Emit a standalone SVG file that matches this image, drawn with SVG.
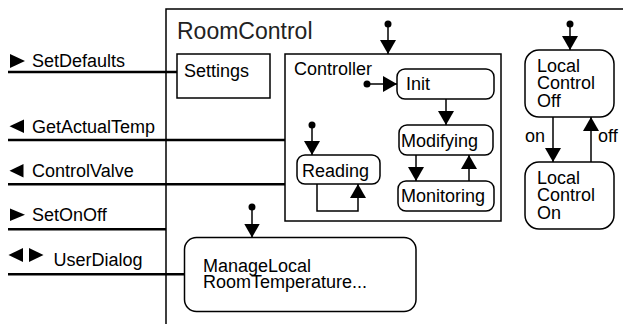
<svg xmlns="http://www.w3.org/2000/svg" width="623" height="324" viewBox="0 0 623 324">
  <style>
    text { font-family: "Liberation Sans", Arial, sans-serif; font-size: 18px; fill: #000; }
    .title { font-size: 23px; fill: #222; }
    .box { fill: #fff; stroke: #000; stroke-width: 1.5; }
    .frame { fill: none; stroke: #000; stroke-width: 1.5; }
    .port { fill: none; stroke: #000; stroke-width: 2.5; }
    .tr { fill: none; stroke: #000; stroke-width: 1.5; }
    .dot { fill: #000; }
    .tri { fill: #000; }
  </style>
  <defs>
    <marker id="head" markerUnits="userSpaceOnUse" viewBox="0 0 14 16" refX="14" refY="8" markerWidth="14" markerHeight="16" orient="auto">
      <path d="M0,0 L14,8 L0,16 Z" fill="#000"/>
    </marker>
  </defs>

  <!-- enclosing RoomControl frame -->
  <g id="RoomControl">
    <path class="frame" d="M166,324 V9 H623"/>
    <text class="title" x="177" y="39">RoomControl</text>
  </g>

  <!-- interface ports on the left -->
  <g id="ports">
    <polygon class="tri" points="10,54 10,68 25,61"/>
    <text x="32" y="66.5">SetDefaults</text>
    <polygon class="tri" points="24,119.5 24,133 9.5,126.2"/>
    <text x="32" y="132.7">GetActualTemp</text>
    <polygon class="tri" points="23.5,164 23.5,177.5 9.5,170.7"/>
    <text x="32" y="176.7">ControlValve</text>
    <polygon class="tri" points="10,208.5 10,221 25,214.7"/>
    <text x="32" y="220.5">SetOnOff</text>
    <polygon class="tri" points="23,248 23,262 8.5,255"/>
    <polygon class="tri" points="29,248 29,262 43.5,255"/>
    <text x="53.5" y="266">UserDialog</text>
  </g>

  <g id="Settings">
    <rect class="box" x="177" y="54" width="93" height="44"/>
    <text x="184" y="77">Settings</text>
  </g>

  <g id="Controller">
    <rect class="box" x="285" y="54" width="216" height="167"/>
    <text x="294" y="74.5">Controller</text>
  </g>

  <g id="Init">
    <rect class="box" x="397" y="69" width="97" height="30" rx="8"/>
    <text x="406" y="89.5">Init</text>
  </g>

  <g id="Modifying">
    <rect class="box" x="399" y="125" width="94" height="30" rx="8"/>
    <text x="401" y="146.5">Modifying</text>
  </g>

  <g id="Monitoring">
    <rect class="box" x="398" y="181" width="96" height="30" rx="8"/>
    <text x="401" y="202">Monitoring</text>
  </g>

  <g id="Reading">
    <rect class="box" x="297" y="155" width="83" height="29" rx="8"/>
    <text x="302" y="176.5">Reading</text>
  </g>

  <g id="ManageLocalRoomTemperature">
    <rect class="box" x="184.5" y="237.5" width="231.5" height="74" rx="12"/>
    <text x="203" y="271.5">ManageLocal</text>
    <text x="203" y="288.3">RoomTemperature...</text>
  </g>

  <g id="LocalControlOff">
    <rect class="box" x="525" y="50" width="89" height="67" rx="14"/>
    <text x="537" y="71.5">Local</text>
    <text x="537" y="89">Control</text>
    <text x="537" y="106.5">Off</text>
  </g>

  <g id="LocalControlOn">
    <rect class="box" x="525" y="162" width="89" height="67" rx="14"/>
    <text x="537" y="183.5">Local</text>
    <text x="537" y="201">Control</text>
    <text x="537" y="219">On</text>
  </g>

  <!-- connectors: port lines, initial transitions and state transitions -->
  <g id="connectors">
    <line class="port" x1="8" y1="72" x2="177" y2="72"/>
    <line class="port" x1="8" y1="140" x2="285" y2="140"/>
    <line class="port" x1="8" y1="184.3" x2="285" y2="184.3"/>
    <line class="port" x1="8" y1="229.3" x2="166" y2="229.3"/>
    <line class="port" x1="8" y1="274.3" x2="184.5" y2="274.3"/>

    <circle class="dot" cx="388" cy="24" r="3.5"/>
    <line class="tr" x1="388" y1="24" x2="388" y2="54" marker-end="url(#head)"/>

    <circle class="dot" cx="367" cy="84" r="3.5"/>
    <line class="tr" x1="367" y1="84" x2="397" y2="84" marker-end="url(#head)"/>

    <line class="tr" x1="446" y1="99" x2="446" y2="125" marker-end="url(#head)"/>
    <line class="tr" x1="416" y1="155" x2="416" y2="181" marker-end="url(#head)"/>
    <line class="tr" x1="469" y1="181" x2="469" y2="155" marker-end="url(#head)"/>

    <circle class="dot" cx="312" cy="125" r="3.5"/>
    <line class="tr" x1="312" y1="125" x2="312" y2="155" marker-end="url(#head)"/>
    <polyline class="tr" points="317,184 317,211 358,211 358,184" marker-end="url(#head)"/>

    <circle class="dot" cx="252" cy="207" r="3.5"/>
    <line class="tr" x1="252" y1="207" x2="252" y2="237.5" marker-end="url(#head)"/>

    <circle class="dot" cx="570" cy="24" r="3.5"/>
    <line class="tr" x1="570" y1="24" x2="570" y2="50" marker-end="url(#head)"/>

    <line class="tr" x1="553" y1="117" x2="553" y2="162" marker-end="url(#head)"/>
    <text x="525" y="141.5">on</text>
    <line class="tr" x1="591" y1="162" x2="591" y2="117" marker-end="url(#head)"/>
    <text x="598" y="141.5">off</text>
  </g>
</svg>
